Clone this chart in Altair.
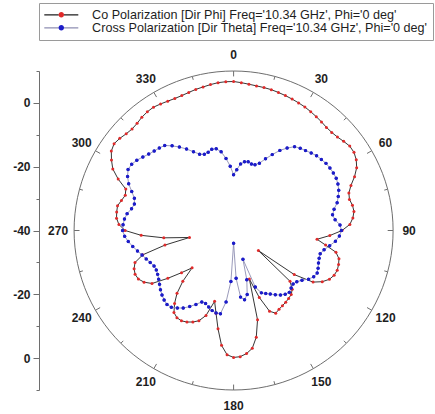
import altair as alt
import pandas as pd

# ---------------- data ----------------
ANGLES = list(range(0, 360, 3))  # degrees, clockwise from top

CO_DB = [
    6.7, 6.4, 6.1, 5.9, 5.8, 5.7, 5.5, 5.3, 5.1, 4.9,          # 0-27
    4.7, 4.4, 4.1, 3.8, 3.5, 3.5, 3.8, 4.4, 5.0, 5.0,          # 30-57
    4.4, 3.3, 1.5, -0.6, -2.0, -2.4, -1.9, -1.8, -2.4, -3.5,   # 60-87
    -6.0, -9.8, -13.7, -10.8, -7.2, -5.8, -5.4, -5.2, -5.5, -6.3,   # 90-117
    -7.9, -10.3, -16.5, -30.0, -16.2, -14.0, -13.0, -12.6, -12.2, -11.9,  # 120-147
    -11.5, -10.9, -12.3, -17.5, -24.0, -11.0, -5.8, -2.6, -1.2, -0.4,   # 150-177
    -0.2, -1.0, -3.8, -8.8, -13.5, -17.0, -12.0, -9.7, -8.6, -7.8,      # 180-207
    -7.3, -7.4, -8.2, -10.6, -13.5, -17.5, -22.5, -19.0, -14.5, -9.5,   # 210-237
    -7.6, -6.5, -6.2, -6.6, -7.5, -10.5, -18.0, -26.0, -18.0, -11.0,    # 240-267
    -6.0, -4.0, -3.1, -2.9, -2.8, -3.6, -4.3, -3.8, -0.4, 2.5,          # 270-297
    4.2, 5.7, 6.3, 5.9, 5.3, 5.0, 5.2, 5.7, 6.0, 6.1,                   # 300-327
    5.8, 5.5, 5.3, 5.3, 5.5, 5.8, 6.0, 6.3, 6.6, 6.7,                   # 330-357
]

CROSS_DB = [
    -22.5, -20.9, -19.0, -18.2, -18.0, -18.4, -18.3, -17.4, -15.4, -13.3,  # 0-27
    -11.0, -9.2, -7.5, -6.8, -6.3, -5.6, -5.0, -4.6, -4.2, -4.0,          # 30-57
    -3.9, -3.9, -4.2, -4.7, -5.5, -6.4, -7.8, -8.6, -8.0, -6.6,           # 60-87
    -6.2, -6.8, -7.9, -9.5, -11.0, -11.9, -11.8, -11.5, -11.0, -10.6,     # 90-117
    -11.0, -12.0, -13.5, -14.5, -14.9, -14.5, -13.9, -14.3, -15.0, -16.0, # 120-147
    -17.0, -17.8, -18.6, -21.0, -30.5, -24.0, -19.5, -18.0, -19.0, -25.0, # 150-177
    -36.0, -24.0, -17.5, -13.6, -13.6, -14.0, -14.8, -15.5, -15.5, -14.0, # 180-207
    -12.5, -11.0, -10.0, -9.0, -8.8, -9.2, -9.8, -10.5, -11.3, -12.0,     # 210-237
    -12.5, -12.8, -12.7, -12.0, -11.2, -10.3, -9.2, -8.0, -6.8, -5.8,     # 240-267
    -5.2, -5.3, -5.6, -6.2, -7.3, -7.8, -7.3, -5.8, -4.0, -2.7,           # 270-297
    -1.8, -1.9, -2.5, -3.4, -4.2, -4.8, -5.2, -5.7, -7.2, -8.8,           # 300-327
    -10.5, -12.3, -13.8, -14.4, -14.2, -13.6, -13.8, -15.0, -17.3, -19.8, # 330-357
]

SERIES = [
    "Co Polarization [Dir Phi] Freq='10.34 GHz', Phi='0 deg'",
    "Cross Polarization [Dir Theta] Freq='10.34 GHz', Phi='0 deg'",
]
ANGLE_LABELS = [0, 30, 60, 90, 120, 150, 180, 210, 240, 270, 300, 330]
RADIAL_TICKS = [-50, -40, -30, -20, -10, 0, 10, 20, 30, 40, 50]
DB_MIN, DB_MAX = -40, 10
RMAX = DB_MAX - DB_MIN

# ---------------- styling ----------------
FONT = "Liberation Sans"
RED = "#e02a2a"
BLUE = "#1c1cc8"
LINE_COLORS = ["#1e1e1e", "#8e8eb2"]
FRAME = "#6e6e6e"
TXT = "#1e1e1e"

rows = []
for k, (name, vals) in enumerate(zip(SERIES, [CO_DB, CROSS_DB])):
    angs = ANGLES + [ANGLES[0] + 360]
    vv = vals + [vals[0]]
    for i, (a, v) in enumerate(zip(angs, vv)):
        rows.append({"series": name, "series2": name, "sid": k, "idx": i, "angle": a, "db": v})
df = pd.DataFrame(rows)

XS = alt.Scale(domain=[-61, 60], nice=False, zero=False)
YS = alt.Scale(domain=[-RMAX, RMAX], nice=False, zero=False)
Y_AXIS = alt.Axis(
    values=RADIAL_TICKS,
    labelExpr="abs(datum.value) % 20 == 0 ? '' + (abs(datum.value) - 40) : ''",
    title=None, grid=False,
    domainColor=FRAME, tickColor=FRAME, domainWidth=1, tickWidth=1,
    tickSize={"condition": {"test": "abs(datum.value) % 20 == 0", "value": 6}, "value": 3},
    labelFont=FONT, labelFontSize=12, labelFontWeight="bold", labelColor=TXT,
    labelPadding=3,
)


def xy(xf="px", yf="py"):
    return dict(
        x=alt.X(f"{xf}:Q", scale=XS, axis=None),
        y=alt.Y(f"{yf}:Q", scale=YS, axis=Y_AXIS),
    )


def polar(ch, field):
    return (ch.transform_calculate(r=f"datum.{field} - ({DB_MIN})")
              .transform_calculate(px="datum.r*sin(datum.angle*PI/180)")
              .transform_calculate(py="datum.r*cos(datum.angle*PI/180)"))


# outer frame circle
frame = (alt.Chart(alt.sequence(0, 363, 3, as_="a"))
         .transform_calculate(px=f"{RMAX}*sin(datum.a*PI/180)")
         .transform_calculate(py=f"{RMAX}*cos(datum.a*PI/180)")
         .mark_line(stroke=FRAME, strokeWidth=1)
         .encode(order="a:Q", **xy()))

# angular ticks (inward)
ticks = (alt.Chart(alt.sequence(0, 360, 15, as_="a"))
         .transform_calculate(r2=f"datum.a % 30 == 0 ? {RMAX - 1.7} : {RMAX - 1.1}")
         .transform_calculate(px=f"{RMAX}*sin(datum.a*PI/180)")
         .transform_calculate(py=f"{RMAX}*cos(datum.a*PI/180)")
         .transform_calculate(px2="datum.r2*sin(datum.a*PI/180)")
         .transform_calculate(py2="datum.r2*cos(datum.a*PI/180)")
         .mark_rule(stroke=FRAME, strokeWidth=1)
         .encode(x2="px2:Q", y2="py2:Q", **xy()))

# angular labels
labels = (alt.Chart(pd.DataFrame({"a": ANGLE_LABELS}))
          .transform_calculate(px=f"{RMAX + 5}*sin(datum.a*PI/180)")
          .transform_calculate(py=f"{RMAX + 5}*cos(datum.a*PI/180)")
          .mark_text(font=FONT, fontSize=12, fontWeight="bold", color=TXT,
                     align="center", baseline="middle")
          .encode(text=alt.Text("a:Q", format="d"), **xy()))

COMMON_LEG = dict(
    title=None, orient="none", legendX=0, legendY=-68, direction="vertical",
    symbolSize=100, symbolOffset=10.5, labelOffset=24.5,
    labelFont=FONT, labelFontSize=12.6, labelLimit=600,
    padding=5.5, rowPadding=0,
)
LEG_LINE = alt.Legend(symbolType="M-3.4,0H-0.5M0.5,0H3.4", symbolStrokeWidth=1.3,
                      labelColor=TXT, strokeColor="#9a9a9a", **COMMON_LEG)
LEG_DOT = alt.Legend(symbolType="M-0.55,0A0.55,0.55 0 1,1 0.55,0A0.55,0.55 0 1,1 -0.55,0Z",
                     symbolStrokeWidth=0, labelOpacity=0, **COMMON_LEG)

lines = (polar(alt.Chart(df), "db")
         .mark_line(strokeWidth=0.9)
         .encode(stroke=alt.Stroke("series:N", scale=alt.Scale(range=LINE_COLORS), legend=LEG_LINE),
                 order="idx:Q", **xy()))

points = (polar(alt.Chart(df).transform_filter("datum.angle < 360"), "db")
          .mark_circle(size=9, opacity=1)
          .encode(fill=alt.Fill("series2:N", scale=alt.Scale(range=[RED, BLUE]), legend=LEG_DOT),
                  **xy()))

blue_pts = (polar(alt.Chart(df).transform_filter("datum.angle < 360 && datum.sid == 1"), "db")
            .mark_circle(size=12, opacity=1, color=BLUE)
            .encode(**xy()))

chart = (alt.layer(frame, ticks, labels, lines, points, blue_pts)
         .properties(width=386, height=319,
                     padding={"left": 39, "top": 71, "right": 10, "bottom": 24},
                     autosize=alt.AutoSizeParams(type="none"),
                     background="white")
         .configure_view(stroke=None))

chart.save("out.html", embed_options={"renderer": "svg", "actions": False})
